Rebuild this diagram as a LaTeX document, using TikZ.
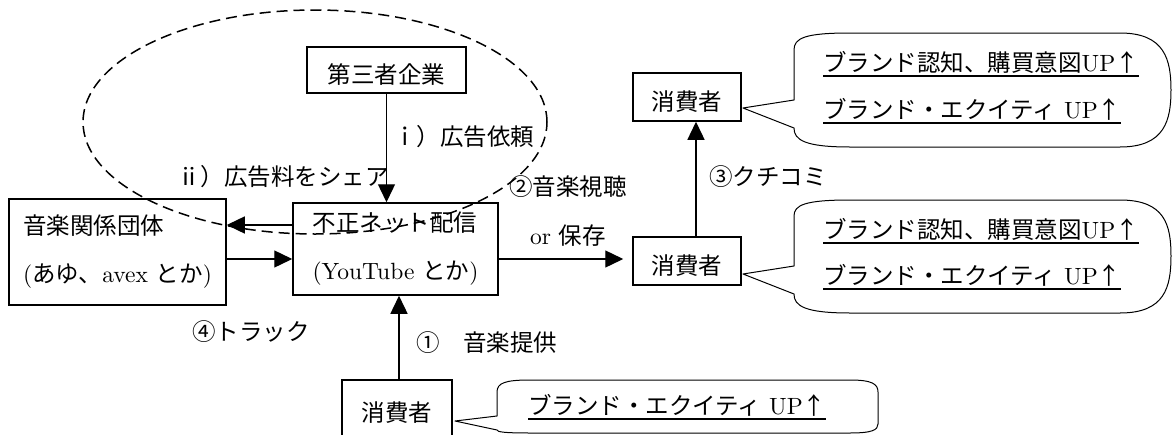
\documentclass[tikz,border=0pt]{standalone}
\usepackage{fontspec}
\setmainfont{lmroman10-regular.otf}[BoldFont=lmroman10-bold.otf]
\newfontfamily\jp{Noto Sans CJK JP}
\usetikzlibrary{arrows.meta,shapes.geometric}
\begin{document}
\begin{tikzpicture}[x=1pt,y=-1pt,
  box/.style={draw,line width=1.5pt,inner sep=0pt,font=\fontsize{23.5}{48}\selectfont,align=left},
  sbox/.style={box,text height=26pt,text depth=0pt},
  lbl/.style={inner sep=0pt,anchor=base west,font=\fontsize{23.5}{28}\selectfont},
  arr/.style={line width=1.4pt,-{Triangle[length=18pt,width=17pt]}},
  bub/.style={line width=1pt,line join=round},
  uline/.style={line width=1.8pt},
  grp/.style={draw,dash pattern=on 11pt off 6pt,line width=1.5pt,ellipse,inner sep=0pt,minimum width=464pt,minimum height=224pt}]
\useasboundingbox (0,0) rectangle (1173,434);
\clip (0,0) rectangle (1173,434);

% boxes
\node[sbox,minimum width=159pt,minimum height=46pt] (tp) at (386.5,70) {\jp 第三者企業};
\node[box,minimum width=217pt,minimum height=106pt] (ongaku) at (117.5,252) {{\jp 音楽関係団体}\\({\jp あゆ、}avex {\jp とか})};
\node[box,minimum width=205pt,minimum height=92pt] (fusei) at (395.5,249) {{\jp 不正ネット配信}\\(YouTube {\jp とか})};
\node[sbox,minimum width=108pt,minimum height=48pt] (c1) at (687,97) {\jp 消費者};
\node[sbox,minimum width=108pt,minimum height=48pt] (c2) at (687,261) {\jp 消費者};
\node[sbox,minimum width=110pt,minimum height=56pt] (c3) at (397,408) {\jp 消費者};

% group ellipse
\node[grp] (grp) at (315,122) {};

% connectors
\coordinate (a1) at ([yshift=24pt]fusei.west);
\coordinate (a2) at ([yshift=-7pt]ongaku.east);
\coordinate (a3) at ([yshift=-10pt]fusei.east);
\coordinate (a4) at ([xshift=9pt]c2.north);
\coordinate (a5) at ([xshift=2pt]c3.north);
\draw[arr] (tp.south) -- (tp.south |- fusei.north);
\draw[arr] (a1) -- (a1 -| ongaku.east);
\draw[arr] (a2) -- (a2 -| fusei.west);
\draw[arr,shorten >=9pt] (a3) -- (a3 -| c2.west);
\draw[arr] (a4) -- (a4 |- c1.south);
\draw[arr] (a5) -- (a5 |- fusei.south);

% labels
\node[lbl] (l1) at (393,145) {\jp ｉ）広告依頼};
\node[lbl] (l2) at (177,185) {\jp ⅱ）広告料をシェア};
\node[lbl] (l3) at (509,195) {\jp ②音楽視聴};
\node[lbl] (l4) at (530,244) {or {\jp 保存}};
\node[lbl] (l5) at (709,185) {\jp ③クチコミ};
\node[lbl] (l6) at (192,340) {\jp ④トラック};
\node[lbl] (l7) at (416,351) {\jp ①　音楽提供};

% callouts
\draw[bub] (794,100) -- (794,50) .. controls (794,38) and (805,33) .. (850,33) -- (1120,33)
  .. controls (1165,33) and (1171,60) .. (1171,90) .. controls (1171,120) and (1165,147) .. (1120,147)
  -- (850,147) .. controls (805,147) and (794,140) .. (794,128) -- (743,108) -- cycle;
\draw[bub] (794,266) -- (794,216) .. controls (794,205) and (805,200) .. (850,200) -- (1120,200)
  .. controls (1165,200) and (1171,225) .. (1171,256) .. controls (1171,287) and (1165,313) .. (1120,313)
  -- (850,313) .. controls (805,313) and (794,306) .. (794,294) -- (743,274) -- cycle;
\draw[bub] (497,416) -- (497,392) .. controls (497,383) and (505,380) .. (530,380) -- (850,380)
  .. controls (872,380) and (878,384) .. (878,392) -- (878,424) .. controls (878,430) and (872,433) .. (850,433)
  -- (530,433) .. controls (505,433) and (497,432) .. (497,430) -- (455,421) -- cycle;

% callout texts
\node[lbl] (b1) at (823,71) {{\jp ブランド認知、購買意図}UP{\jp ↑}};
\node[lbl] (b2) at (823,118) {{\jp ブランド・エクイティ} UP{\jp ↑}};
\node[lbl] (b3) at (823,238) {{\jp ブランド認知、購買意図}UP{\jp ↑}};
\node[lbl] (b4) at (823,284) {{\jp ブランド・エクイティ} UP{\jp ↑}};
\node[lbl] (b5) at (528,414) {{\jp ブランド・エクイティ} UP{\jp ↑}};
\foreach \b in {b1,b2,b3,b4,b5}
  \draw[uline] ([yshift=-5pt]\b.base west) -- ([yshift=-5pt]\b.base east);
\end{tikzpicture}
\end{document}
